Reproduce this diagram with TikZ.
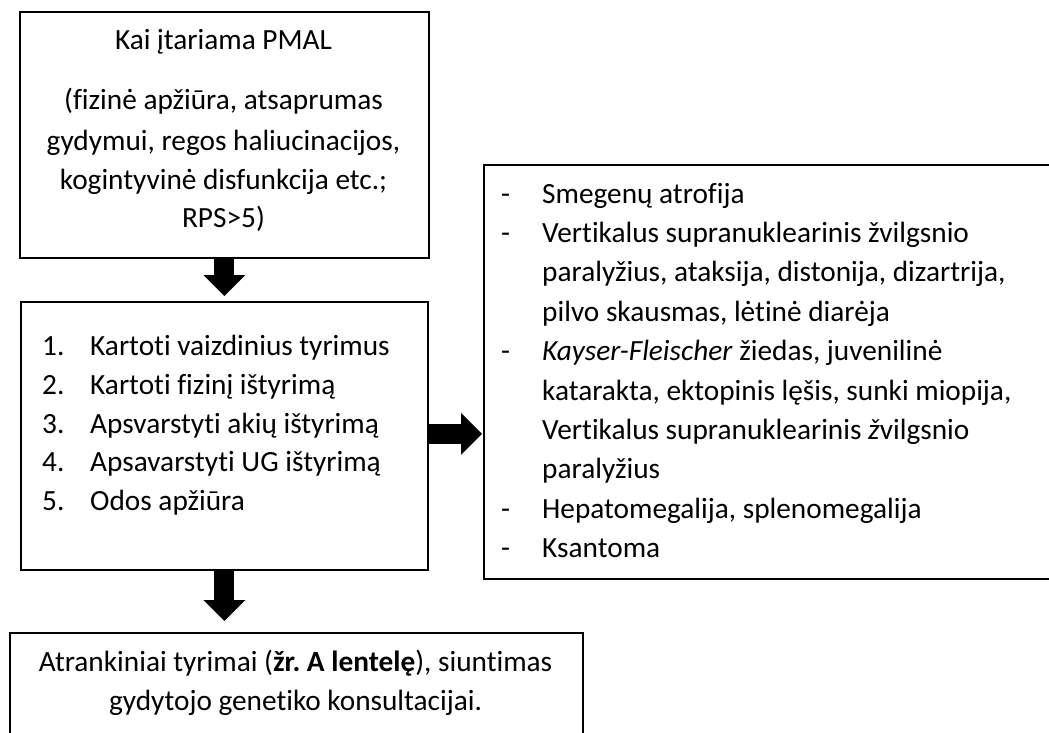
\documentclass[tikz,border=0pt]{standalone}
\usepackage{fontspec}
\setmainfont{Carlito}[Ligatures=NoCommon]
\frenchspacing
\usetikzlibrary{arrows.meta,calc}
\begin{document}
\begin{tikzpicture}[x=1pt,y=-1pt,
  box/.style={draw=black, line width=1.8pt, rectangle, inner sep=0pt, anchor=north west},
  txt/.style={anchor=base, inner sep=0pt, font=\fontsize{29.3}{39.4}\selectfont},
  lft/.style={txt, anchor=base west},
  blockarrow/.style={line width=20pt, -{Triangle[length=21pt,width=42pt,line width=0pt]}}]
\useasboundingbox (0,0) rectangle (1049,733);
\clip (0,0) rectangle (1049,733);
% boxes
\node[box, minimum width=409pt, minimum height=246pt] (b1) at (19,11) {};
\node[box, minimum width=407pt, minimum height=268pt] (b2) at (20,301) {};
\node[box, minimum width=577pt, minimum height=414pt] (b3) at (483,164) {};
\node[box, minimum width=573pt, minimum height=140pt] (b4) at (9,632) {};
% box 1 text
\node[txt] (p1) at (223.5,50) {Kai įtariama PMAL};
\node[txt] (p2) at (223.5,110) {(fizinė apžiūra, atsaprumas};
\node[txt] (p3) at (223.5,150) {gydymui, regos haliucinacijos,};
\node[txt] (p4) at (223.5,189) {kogintyvinė disfunkcija etc.;};
\node[txt] (p5) at (223.5,227) {RPS>5)};
% box 2 text
\node[lft] (n1) at (42,355.5) {1.};
\node[lft] (n2) at (42,394.3) {2.};
\node[lft] (n3) at (42,433.1) {3.};
\node[lft] (n4) at (42,471.9) {4.};
\node[lft] (n5) at (42,510.7) {5.};
\node[lft] (s1) at (90,355.5) {Kartoti vaizdinius tyrimus};
\node[lft] (s2) at (90,394.3) {Kartoti fizinį ištyrimą};
\node[lft] (s3) at (90,433.1) {Apsvarstyti akių ištyrimą};
\node[lft] (s4) at (90,471.9) {Apsavarstyti UG ištyrimą};
\node[lft] (s5) at (90,510.7) {Odos apžiūra};
% box 3 text
\node[lft] (d1) at (501,203) {-};
\node[lft] (d2) at (501,242.4) {-};
\node[lft] (d3) at (501,360.6) {-};
\node[lft] (d4) at (501,518.2) {-};
\node[lft] (d5) at (501,557.6) {-};
\node[lft] (t1) at (542,203) {Smegenų atrofija};
\node[lft] (t2) at (542,242.4) {Vertikalus supranuklearinis žvilgsnio};
\node[lft] (t3) at (542,281.8) {paralyžius, ataksija, distonija, dizartrija,};
\node[lft] (t4) at (542,321.2) {pilvo skausmas, lėtinė diarėja};
\node[lft] (t5) at (542,360.6) {\textit{Kayser-Fleischer} žiedas, juvenilinė};
\node[lft] (t6) at (542,400) {katarakta, ektopinis lęšis, sunki miopija,};
\node[lft] (t7) at (542,439.4) {Vertikalus supranuklearinis \textit{ž}vilgsnio};
\node[lft] (t8) at (542,478.8) {paralyžius};
\node[lft] (t9) at (542,518.2) {Hepatomegalija, splenomegalija};
\node[lft] (t10) at (542,557.6) {Ksantoma};
% box 4 text
\node[txt] (r1) at (295.5,671) {Atrankiniai tyrimai (\textbf{žr. A lentelę}), siuntimas};
\node[txt] (r2) at (295.5,710) {gydytojo genetiko konsultacijai.};
% arrows
\draw[blockarrow, shorten >=5pt] (b1.south) -- (b2.north);
\draw[blockarrow, shorten >=11pt] (b2.south) -- (b2.south |- b4.north);
\draw[blockarrow, shorten >=1pt] ($(b2.east)+(0,-2)$) -- ($(b3.west |- b2.east)+(0,-2)$);
\end{tikzpicture}
\end{document}
